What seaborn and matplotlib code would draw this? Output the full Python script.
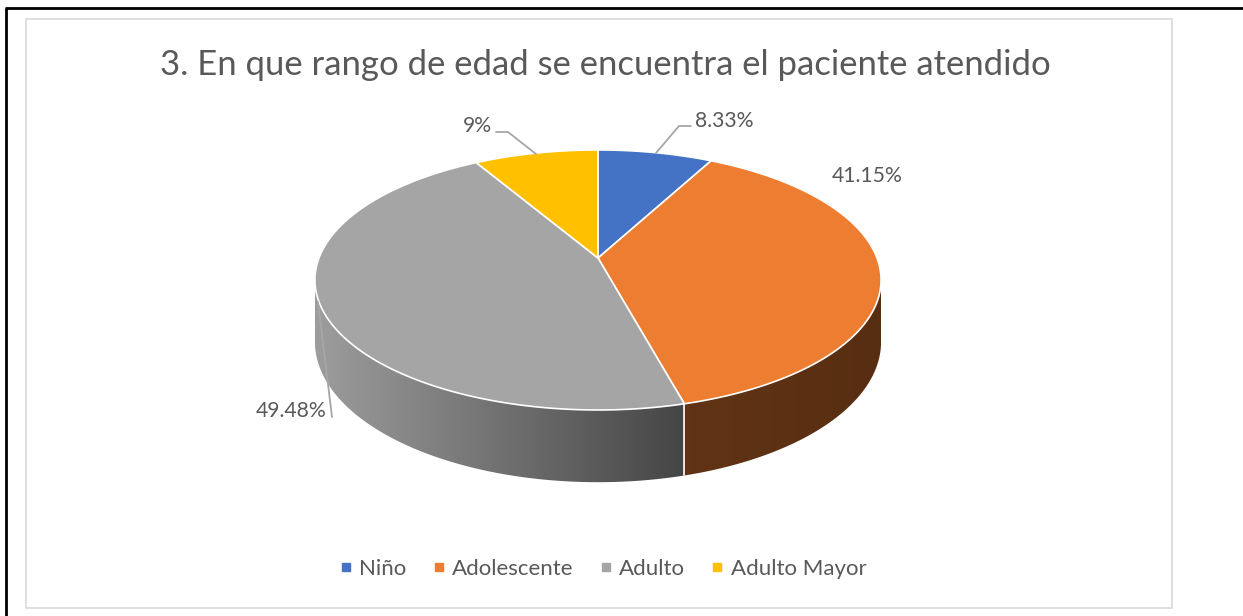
import matplotlib.pyplot as plt
import numpy as np
import seaborn as sns
from matplotlib.lines import Line2D
from matplotlib.path import Path
from matplotlib.patches import PathPatch

# Data
categories = ["Niño", "Adolescente", "Adulto", "Adulto Mayor"]
values = [8.33, 41.15, 49.48, 9]
label_texts = ["8.33%", "41.15%", "49.48%", "9%"]
title = "3. En que rango de edad se encuentra el paciente atendido"

sns.set_theme(style="white")
plt.rcParams["font.family"] = ["Lato", "DejaVu Sans"]
colors = sns.color_palette(["#4472C4", "#ED7D31", "#A5A5A5", "#FFC000"])
text_color = "#595959"

W, H = 1243, 616
fig = plt.figure(figsize=(W / 100, H / 100), dpi=100)
ax = fig.add_axes([0, 0, 1, 1])

# outer black frame (top and left) and the chart area border
ax.plot([5, W], [8, 8], color="black", lw=2, solid_capstyle="butt")
ax.plot([6, 6], [8, H], color="black", lw=2, solid_capstyle="butt")
ax.add_patch(plt.Rectangle((26, 19), 1146, 589, fill=False, ec="#d9d9d9", lw=1.2))

# 3D pie geometry (perspective projected disk)
cx, cy = 598, 258
A, P, r = 279, 126.3, -0.169
depth = 60


def proj(theta):
    u, v = np.sin(theta), -np.cos(theta)
    den = 1 + r * v
    return cx + A * u / den, cy + P * v / den, depth / den


fracs = np.array(values) / np.sum(values)
edges = np.concatenate([[0], np.cumsum(fracs)]) * 2 * np.pi
shade = [(0.6, 0.6), (0.41, 0.37), (0.95, 0.42), (0.6, 0.6)]

# side walls: gradient image clipped to the union of thin quads
for i in range(len(values)):
    th = np.linspace(edges[i], edges[i + 1], 300)
    x, y, d = proj(th)
    verts, codes = [], []
    for j in range(len(th) - 1):
        q = np.array([(x[j], y[j]), (x[j + 1], y[j + 1]),
                      (x[j + 1], y[j + 1] + d[j + 1]), (x[j], y[j] + d[j])])
        area = np.sum(q[:, 0] * np.roll(q[:, 1], -1) - np.roll(q[:, 0], -1) * q[:, 1])
        if area < 0:
            q = q[::-1]
        verts += list(q) + [q[0]]
        codes += [Path.MOVETO, Path.LINETO, Path.LINETO, Path.LINETO, Path.CLOSEPOLY]
    wall = PathPatch(Path(verts, codes), fc="none", ec="none")
    ax.add_patch(wall)
    f = np.linspace(shade[i][0], shade[i][1], 256)
    grad = np.clip(np.array(colors[i])[None, None, :] * f[None, :, None], 0, 1)
    im = ax.imshow(grad, extent=(x.min(), x.max(), (y + d).max() + 1, y.min() - 1),
                   aspect="auto", interpolation="bilinear", zorder=1)
    im.set_clip_path(wall)

# white seam on the visible side
for e in edges[1:-1]:
    if -np.cos(e) > 0.2:
        x, y, d = proj(e)
        ax.plot([x, x], [y, y + d], color="white", lw=1.2, zorder=1.5)

# top faces
for i in range(len(values)):
    th = np.linspace(edges[i], edges[i + 1], 200)
    x, y, _ = proj(th)
    pts = np.column_stack([np.r_[cx, x], np.r_[cy, y]])
    ax.add_patch(plt.Polygon(pts, closed=True, fc=colors[i], ec="white", lw=1.2, zorder=2))

# data labels
lab_pos = [(695, 127), (832, 182), (256, 417), (463, 132)]
labs = []
for txt, (lx, ly) in zip(label_texts, lab_pos):
    labs.append(ax.text(lx, ly, txt, fontsize=15, color=text_color, ha="left", va="baseline"))

lead = "#a6a6a6"
ax.plot([656, 679, 691], [153, 126, 126], color=lead, lw=1.3, zorder=3)
ax.plot([536, 508, 496], [154, 132, 132], color=lead, lw=1.3, zorder=3)
ax.plot([318, 332], [302, 417], color=lead, lw=1.3, zorder=3)

ttl = ax.text(605, 75, title, fontsize=27, color=text_color, ha="center", va="baseline")

# legend
handles = [Line2D([], [], marker="s", ls="", ms=5.5, color=c) for c in colors]
leg = ax.legend(handles, categories, loc="center", bbox_to_anchor=(604 / W, 1 - 569 / H),
                ncol=4, frameon=False, fontsize=16, handlelength=0.4,
                handletextpad=0.4, columnspacing=1.25, labelcolor=text_color)

ax.set_xlim(0, W)
ax.set_ylim(H, 0)
ax.axis("off")

# fit text widths to the reference
fig.canvas.draw()
rend = fig.canvas.get_renderer()
bw = ttl.get_window_extent(rend).width
ttl.set_fontsize(ttl.get_fontsize() * 890 / bw)
bw = labs[1].get_window_extent(rend).width
for t in labs:
    t.set_fontsize(t.get_fontsize() * 71 / bw)

fig.savefig("out.png", dpi=100)
